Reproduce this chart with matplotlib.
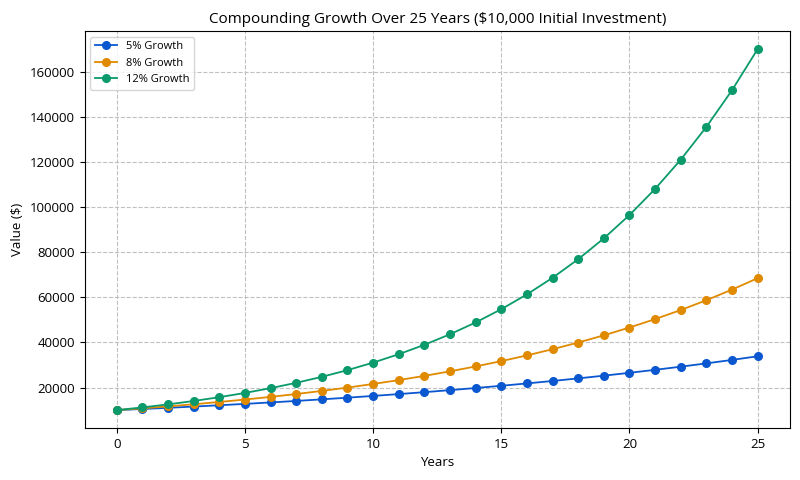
import matplotlib
matplotlib.use("Agg")
import matplotlib.pyplot as plt

# values
years = list(range(26))
growth_5 = [10000, 10500, 11025, 11576, 12155, 12763, 13401, 14071, 14775, 15513,
            16289, 17103, 17959, 18856, 19799, 20789, 21829, 22920, 24066, 25270,
            26533, 27860, 29253, 30715, 32251, 33864]
growth_8 = [10000, 10800, 11664, 12597, 13605, 14693, 15869, 17138, 18509, 19990,
            21589, 23316, 25182, 27196, 29372, 31722, 34259, 37000, 39960, 43157,
            46610, 50338, 54365, 58715, 63412, 68485]
growth_12 = [10000, 11200, 12544, 14049, 15735, 17623, 19738, 22107, 24760, 27731,
             31058, 34785, 38960, 43635, 48871, 54736, 61304, 68660, 76900, 86128,
             96463, 108038, 121003, 135523, 151786, 170001]
labels = ["5% Growth", "8% Growth", "12% Growth"]
colors = ["#0b57d0", "#e08a00", "#0a9a6c"]

plt.rcParams['font.family'] = ['Open Sans', 'DejaVu Sans']

fig, ax = plt.subplots(figsize=(8, 4.8), dpi=100)
fig.subplots_adjust(left=0.106, right=0.987, top=0.935, bottom=0.108)

for vals, lab, col in zip([growth_5, growth_8, growth_12], labels, colors):
    ax.plot(years, vals, marker='o', markersize=5.5, linewidth=1.3, color=col, label=lab)

ax.set_title("Compounding Growth Over 25 Years ($10,000 Initial Investment)", fontsize=11)
ax.set_xlabel("Years", fontsize=9.5)
ax.set_ylabel("Value ($)", fontsize=9.5)
ax.tick_params(labelsize=9.5)
ax.grid(True, linestyle='--', color='#c0c0c0', linewidth=0.8)
ax.legend(loc='upper left', fontsize=8)

fig.savefig("out.png", dpi=100)
